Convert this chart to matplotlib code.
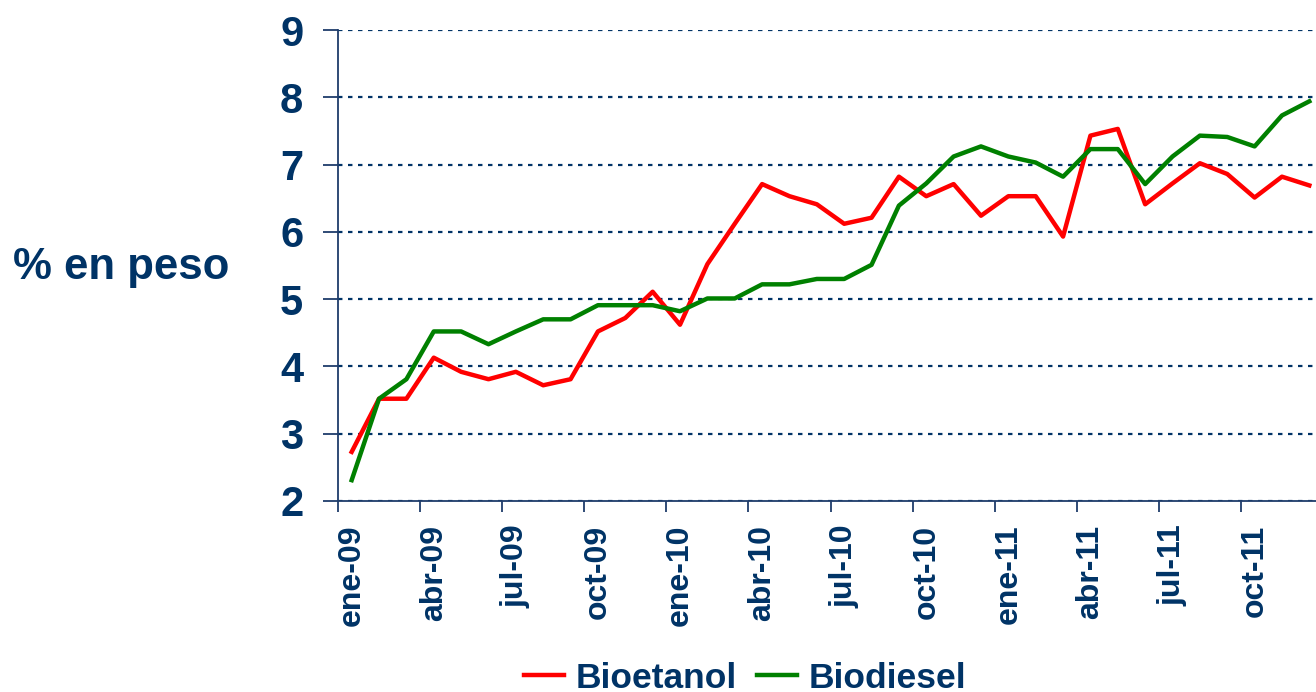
import matplotlib
matplotlib.use("Agg")
import matplotlib.pyplot as plt
import numpy as np

plt.rcParams['font.family'] = ['Liberation Sans', 'DejaVu Sans']
plt.rcParams['font.weight'] = 'bold'

navy = '#003366'

# meses ene-09 .. dic-11
months = ['ene', 'feb', 'mar', 'abr', 'may', 'jun',
          'jul', 'ago', 'sep', 'oct', 'nov', 'dic']
years = ['09', '10', '11']
labels = [m + '-' + y for y in years for m in months]

bioetanol = [2.73, 3.52, 3.52, 4.13, 3.92, 3.81, 3.92, 3.72, 3.81, 4.52, 4.72, 5.11,
             4.62, 5.52, 6.12, 6.71, 6.53, 6.41, 6.12, 6.21, 6.82, 6.53, 6.71, 6.24,
             6.53, 6.53, 5.93, 7.43, 7.53, 6.41, 6.72, 7.02, 6.86, 6.51, 6.82, 6.69]
biodiesel = [2.31, 3.52, 3.81, 4.52, 4.52, 4.33, 4.52, 4.70, 4.70, 4.91, 4.91, 4.91,
             4.82, 5.01, 5.01, 5.22, 5.22, 5.30, 5.30, 5.51, 6.39, 6.72, 7.12, 7.27,
             7.12, 7.03, 6.82, 7.23, 7.23, 6.71, 7.12, 7.43, 7.41, 7.27, 7.73, 7.94]

W, H = 1316, 692
fig = plt.figure(figsize=(W / 100, H / 100), dpi=100)
ax = fig.add_axes([338 / W, (H - 501) / H, 985 / W, 471 / H])

x = np.arange(len(labels))
l1, = ax.plot(x, bioetanol, color='#FF0000', lw=3.2, label='Bioetanol')
l2, = ax.plot(x, biodiesel, color='#008000', lw=3.2, label='Biodiesel')

ax.set_xlim(-0.5, len(labels) - 0.5)
ax.set_ylim(2, 9)
ax.set_yticks(range(2, 10))
ax.yaxis.grid(True, linestyle=(0, (2, 2.5)), color=navy, lw=1.6)
ax.set_axisbelow(True)

# ticks between months, labels every 3 months
ax.set_xticks(np.arange(-0.5, len(labels), 3))
ax.set_xticklabels([])
ax.set_xticks(x[::3], minor=True)
ax.set_xticklabels(labels[::3], minor=True, rotation=90, fontsize=23,
                   color=navy, fontweight='bold')
ax.tick_params(axis='x', which='minor', length=0, pad=17)
ax.tick_params(axis='x', which='major', length=8, width=1.3, color='#1F3D6B', direction='out')
ax.tick_params(axis='y', length=11, width=1.3, color='#1F3D6B', pad=14,
               labelsize=30, labelcolor=navy)

for s in ['top', 'right']:
    ax.spines[s].set_visible(False)
for s in ['left', 'bottom']:
    ax.spines[s].set_color('#1F3D6B')
    ax.spines[s].set_linewidth(1.3)

fig.text(121 / W, 1 - 268 / H, '% en peso', fontsize=31.5, color=navy,
         fontweight='bold', ha='center', va='center')

fig.legend(handles=[l1, l2], loc='center', bbox_to_anchor=(745 / W, 1 - 678 / H),
           ncol=2, frameon=False, labelcolor=navy,
           handlelength=1.13, handletextpad=0.34, columnspacing=0.55,
           prop={'weight': 'bold', 'size': 25.5})

fig.savefig('out.png', dpi=100)
